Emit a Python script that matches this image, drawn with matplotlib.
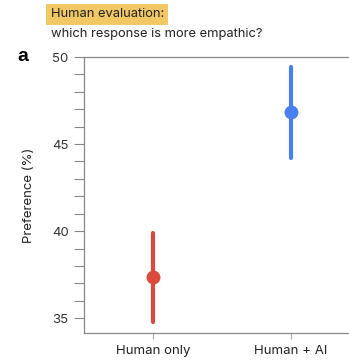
import matplotlib
matplotlib.use("Agg")
import matplotlib.pyplot as plt
from matplotlib.ticker import MultipleLocator

plt.rcParams['font.family'] = ['Inter', 'DejaVu Sans']

# data
groups = ["Human only", "Human + AI"]
means = [37.37, 46.84]
lower = [34.8, 44.2]
upper = [39.9, 49.4]
colors = ["#DB4A3A", "#4A80EE"]

fig = plt.figure(figsize=(3.49, 3.61), dpi=100)
ax = fig.add_axes([0.2407, 0.0776, 0.7593, 0.7644])

for i, g in enumerate(groups):
    ax.plot([i, i], [lower[i], upper[i]], color=colors[i], lw=3,
            solid_capstyle='round', zorder=2)
    ax.plot(i, means[i], 'o', color=colors[i], ms=9, zorder=3)

ax.set_xlim(-0.5, 1.42)
ax.set_ylim(34.15, 50)
ax.set_xticks(range(len(groups)))
ax.set_xticklabels(groups, fontsize=9.5, color="#222222")
ax.yaxis.set_major_locator(MultipleLocator(5))
ax.yaxis.set_minor_locator(MultipleLocator(1))
ax.tick_params(axis='y', which='both', length=7, width=0.8, color="#888888",
               labelsize=9.5, labelcolor="#333333", pad=4)
ax.tick_params(axis='x', length=4, width=0.8, color="#aaaaaa", pad=5)
ax.set_ylabel("Preference (%)", fontsize=9.5, color="#222222", labelpad=12)

for s in ['left', 'bottom', 'top']:
    ax.spines[s].set_color("#888888")
    ax.spines[s].set_linewidth(0.9)
ax.spines['right'].set_visible(False)

fig.text(0.145, 0.96, "Human evaluation:", fontsize=9.3, color="#222222",
         va='center', ha='left',
         bbox=dict(boxstyle='square,pad=0.35', fc="#F2C865", ec='none'))
fig.text(0.145, 0.905, "which response is more empathic?", fontsize=9.3,
         color="#222222", va='center', ha='left')
fig.text(0.05, 0.843, "a", fontsize=14, fontweight='bold', va='center',
         ha='left', family='Liberation Sans')

fig.savefig("out.png", dpi=100)
